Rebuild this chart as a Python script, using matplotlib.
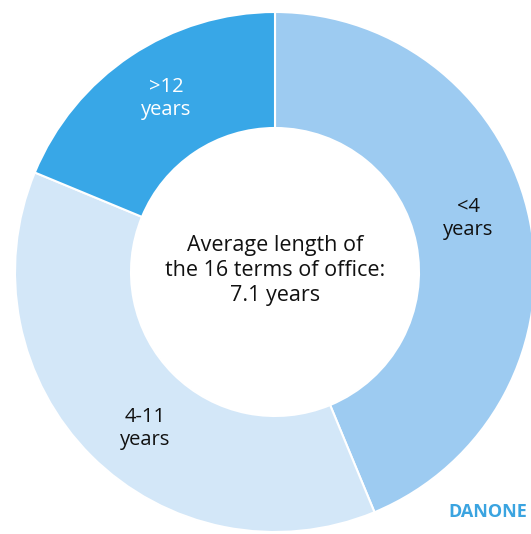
import matplotlib.pyplot as plt

plt.rcParams['font.family'] = ['Open Sans', 'DejaVu Sans']

categories = ['<4\nyears', '4-11\nyears', '>12\nyears']
terms = [7, 6, 3]
colors = ['#9DCBF1', '#D3E7F8', '#38A7E7']
center_text = 'Average length of\nthe 16 terms of office:\n7.1 years'

fig = plt.figure(figsize=(5.31, 5.34), dpi=100)
ax = fig.add_axes([0, 0, 1, 1])

cx, cy = 275, 262
r_out, r_in = 260, 144

ax.pie(terms, colors=colors, startangle=90, counterclock=False,
       center=(cx, cy), radius=r_out, frame=True,
       wedgeprops=dict(width=r_out - r_in, edgecolor='white', linewidth=1.5))
ax.set_xlim(0, 531)
ax.set_ylim(0, 534)
ax.set_aspect('equal')
ax.axis('off')

# label positions (pixels from top-left)
label_pos = [(468, 218), (145, 428), (166, 99)]
label_col = ['#111111', '#111111', 'white']
for lab, (x, y), c in zip(categories, label_pos, label_col):
    ax.text(x, 534 - y, lab, ha='center', va='center', fontsize=14.5,
            color=c, linespacing=1.2, fontweight='medium')

ax.text(cx, cy + 1, center_text, ha='center', va='center', fontsize=15.5,
        color='#111111', linespacing=1.25, fontweight='medium')

ax.text(527, 534 - 512, 'DANONE', ha='right', va='center', fontsize=13,
        fontweight='bold', color='#3BA4E0')

plt.savefig('out.png', dpi=100)
